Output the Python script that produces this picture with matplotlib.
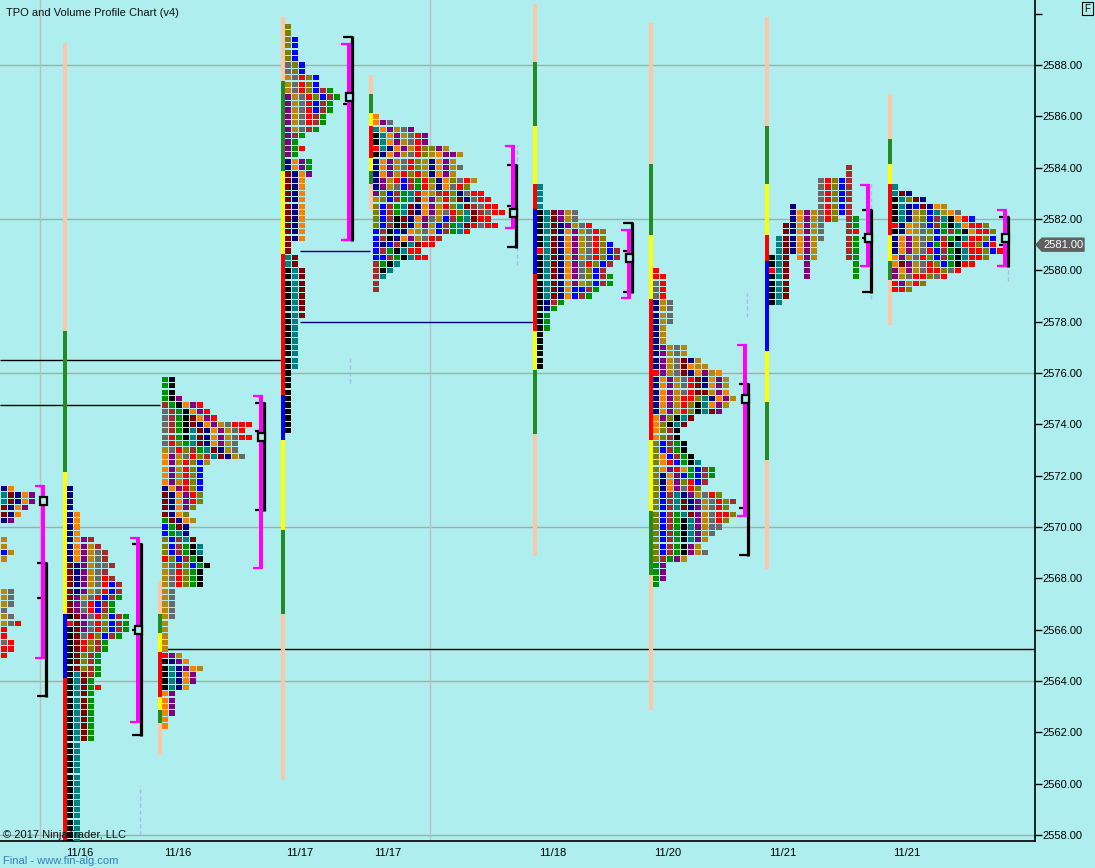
import matplotlib
matplotlib.use('Agg')
import matplotlib.pyplot as plt
from matplotlib.patches import Rectangle, Polygon

# ---------------------------------------------------------------
# look
# ---------------------------------------------------------------
BG = '#AFEEEE'
PX = 25.667            # screen pixels per 1.00 of price
CELL_H = 0.205         # TPO box height (price units), 0.25 tick minus gap
FONT = 'Liberation Sans'

TPO = {'K': '#000000', 'T': '#008080', 'M': '#800000', 'N': '#000080',
       'o': '#F58200', 'P': '#800080', 'D': '#B8860B', 'G': '#696969',
       'R': '#FF0000', 'O': '#808000', 'B': '#0000FF', 'W': '#A52A2A',
       'g': '#009000'}
BAR = {'p': '#FFC6A5', 'g': '#228B22', 'y': '#FFFF00', 'r': '#FF0000', 'b': '#0000FF'}

# ---------------------------------------------------------------
# TPO profiles: left pixel, top price, one string of letters per 0.25 row
# ('.' = empty slot)
# ---------------------------------------------------------------
prof_a_x, prof_a_top = 1, 2571.5
prof_a_rows = ["No", "TMNoP", "TMNoP", "MNoP", "MNo", "NP", "", "", "D", "D", "BD", "D",
               "", "", "", "", "DG", "DG", "DG", "G", "DG", "DGR", "R", "R", "GR", "RR", "R"]

prof_b_x, prof_b_top = 67, 2571.5
prof_b_rows = ["N", "N", "N", "N", "No", "No", "No", "No", "NoPW", "NoPDW", "NoPDGW", "NoPDGW",
               "MNPDGGW", "MNPDGW", "MNPDGRW", "MNPDGRBW", "MNPDGRBW", "MPDGRBWg", "MPGRBWg",
               "MPGRBWg", "KMPGROBWg", "RMPGROBWg", "KMPGROBWg", "KMGROBWg", "KMROWg", "KMROWg",
               "KMOWg", "KMOWg", "KMOWg", "KTMWg", "KTMg", "KTMgR",
               "KTMg", "KTMg", "KTMg", "KTMg", "KTMg", "KTMg", "KTMg", "KTMg",
               "KT", "KT", "KT", "KT", "KT", "KT", "KT", "KT",
               "KT", "KT", "KT", "KT", "KT", "KT", "KT", "KT"]

prof_c_x, prof_c_top = 162, 2575.75
prof_c_rows = ["gK", "gK", "gK", "gKP", "WgKoPR", "GWgKoPR", "GWgKMoPR", "GWgKMNoPDGRRR",
               "GWgKTMNoPDGR", "GRgKTMNoPDGRR", "GROgTMNoPDG", "DGROWgTMNDG", "oPDGROWTMNDG",
               "oPDROBD", "oPDROB", "oPDROB", "oPDROB", "NoPROB", "MNoPRO", "MNoPRO", "MNoPO",
               "MNoO", "gMNoD", "BgMN", "BgTN", "OBWTM", "OBWgKT", "OBWgKT", "ROBWgK", "DGROBgK",
               "DGROgK", "DGROgK", "DGROgK", "DG", "DG", "DG", "DG", "DG", "D", "D", "D", "D", "D",
               "RPD", "KNPo", "KTNPoD", "KTNoP", "KTNoP", "KTNo", "oP", "oP", "oP", "oP", "o", "o"]

prof_d_x, prof_d_top = 285, 2589.5
prof_d_rows = ["O", "O", "OB", "OB", "OB", "OB", "GOB", "GOB", "DGROB", "DGROB", "DGROBWg",
               "PDGROBWg", "PDGRBWg", "PDGRBWg", "PDGRWg", "PDGRWg", "PDGWg", "PWg", "Pg", "PgR",
               "Pg", "NoPg", "NoPg", "MNoP", "MNo", "MNo", "MNo", "MNo", "MNo", "MNo", "MNo",
               "MNo", "MNo", "MNo", "M", "M", "TM", "TM", "KTM", "KTM", "KTM", "KTM", "KTM",
               "KTM", "KTM", "KTM", "KT", "KT", "KT", "KT", "KT", "KT", "KT", "KT",
               "K", "K", "K", "K", "K", "K", "K", "K", "K", "K"]

prof_e_x, prof_e_top = 373, 2586.0
prof_e_rows = ["o", "oPG", "ToPDGP", "KToPDGRP", "KToPDGRP", "RTNoPDROOPD", "KNoPDGRODoPPD",
               "NoPDGRODNoPD", "NoPDGRODNoPDG", "NoPDRORDNoPD", "NPDRBWgRONoOGRD",
               "NPDGBWgRDNoGRO", "POBWgTRoDWRONGRR", "DOBWgTMoPDROMNGRR",
               "OBWgTMNoPDROTMWGRR", "OBWgTMNoPDGROTMWGRR", "OBWKMNoPGDBWgTMRR",
               "OBWKMNoPDBWgTMRGRR", "BWKBNoDGoBWgTR", "BWKNoPDGRW", "BNBWKTMRR", "BWgKTRR",
               "BBWgKTRR", "WgKT", "WKT", "WT", "W", "W"]

prof_f_x, prof_f_top = 537, 2583.25
prof_f_rows = ["T", "T", "T", "T", "KTMPDG", "KTMPDG", "KTMNPDGR", "KTMNoPDGRO", "KTMNoPDGRO",
               "KTMNoPDGROB", "RTMNoPDGROBW", "KTMNoPDGROBW", "KTMNoPGROBW", "KTMNoPGOBW",
               "KTMNoPGOBWg", "KTMNoPDOBWg", "KTMNoBBWg", "KTMNoBWg", "KNWg", "KNg",
               "Kg", "Kg", "Kg", "K", "K", "K", "K", "K", "K"]

prof_g_x, prof_g_top = 653, 2580.0
prof_g_rows = ["R", "RR", "GR", "GR", "GR", "NDG", "NDG", "NDG", "NDG", "ND", "ND", "ND",
               "NPDGD", "NPDGD", "NPDGMND", "NPDGMoDD", "RPDGMNoPDo", "NoPDGRMNoPD",
               "NoPDGRMNoPD", "NoPDGRMMDPo", "NoPDRROTNoPD", "NoPDROKToPD", "NoPDROKTMP",
               "oPOKTM", "oOKTM", "oOWK", "oOWK", "OBWgK", "OBWgK", "OoBWgK", "OoRBgKT",
               "OoPRogBWg", "ONoPBgBWg", "ONoPORBW", "ONoPGRO", "OBWTNPDGRO", "OBWTMNPDGROW",
               "OBWTMNPDGRO", "OBWgTMPDGRRO", "OBWgKTPDGRO", "OBWgKTPDGG", "OBWgKTPDG",
               "OBWgKTPD", "OBWgKPD", "OBWgKPDG", "OWgPD", "gP", "gP", "gP", "g"]

prof_h_x, prof_h_top = 769, 2584.0
prof_h_rows = ["...........W", "...........W", ".......GROBW", ".......GROBW", ".......GROBW",
               ".......GROBW", "...N...GROBW", "...NoPDGROBW", "...NoPDGRO.Wg", "..MNoPDG...Wg",
               "..MNoPDG...WR", ".TMNoPDG...Wg", ".TMNoPD....Wg", ".TMNoPD....Wg",
               "KTM.oPD....Wg", "KTM..P......g", "RTM..P......g", "KTM..P......g",
               "KTM", "KTM", "KTM", "KT"]

prof_i_x, prof_i_top = 892, 2583.25
prof_i_rows = ["T", "TMN", "KTOMN", "KTNBMNoD", "KTNDOBTDoG", "KTNDOBWTKoRB", "RNoDGBWgKToRRO",
               "KNoDGOBgWgKoRRO", "NoPDGOBWgKTRROB", "NoPDGBgRKTRROBR", "NoPDGRBWgKTRROBR",
               "oPDGROBWgKTRRO", "oMPDGROBgKRR", "PoPDGRROGR", "PDGRROGR", "RPDRO", "RRO"]

# ---------------------------------------------------------------
# session range bars: left pixel, segments (colour, top tick, bottom tick)
# ---------------------------------------------------------------
bar1 = (63, [('p', 2588.75, 2577.75), ('g', 2577.5, 2572.25), ('y', 2572.0, 2566.75),
             ('b', 2566.5, 2564.25), ('r', 2564.0, 2557.75)])
bar2 = (158, [('p', 2567.75, 2566.75), ('g', 2566.5, 2566.0), ('y', 2565.75, 2565.25),
              ('r', 2565.0, 2563.5), ('y', 2563.25, 2563.0), ('g', 2562.75, 2562.5),
              ('p', 2562.25, 2561.25)])
bar3 = (281, [('p', 2589.75, 2587.5), ('g', 2587.25, 2584.0), ('y', 2583.75, 2580.75),
              ('r', 2580.5, 2575.25), ('b', 2575.0, 2573.5), ('y', 2573.25, 2570.0),
              ('g', 2569.75, 2566.75), ('p', 2566.5, 2560.25)])
bar4 = (369, [('p', 2587.5, 2587.0), ('g', 2586.75, 2586.25), ('y', 2586.0, 2585.75),
              ('r', 2585.5, 2584.5), ('y', 2584.25, 2584.0), ('g', 2583.75, 2583.5),
              ('p', 2583.25, 2582.5)])
bar5 = (533, [('p', 2590.25, 2588.25), ('g', 2588.0, 2585.75), ('y', 2585.5, 2583.5),
              ('r', 2583.25, 2582.5), ('b', 2582.25, 2580.0), ('r', 2579.75, 2577.75),
              ('y', 2577.5, 2576.25), ('g', 2576.0, 2573.75), ('p', 2573.5, 2569.0)])
bar6 = (649, [('p', 2589.5, 2584.25), ('g', 2584.0, 2581.5), ('y', 2581.25, 2579.0),
              ('r', 2578.75, 2573.5), ('y', 2573.25, 2570.75), ('g', 2570.5, 2568.25),
              ('p', 2568.0, 2563.0)])
bar7 = (765, [('p', 2589.75, 2585.75), ('g', 2585.5, 2583.5), ('y', 2583.25, 2581.5),
              ('r', 2581.25, 2580.5), ('b', 2580.25, 2577.0), ('y', 2576.75, 2575.0),
              ('g', 2574.75, 2572.75), ('p', 2572.5, 2568.5)])
bar8 = (888, [('p', 2586.75, 2585.25), ('g', 2585.0, 2584.25), ('y', 2584.0, 2583.5),
              ('r', 2583.25, 2581.5), ('y', 2581.25, 2580.5), ('g', 2580.25, 2579.75),
              ('p', 2579.5, 2578.0)])

# value area (magenta) : x, high, low, POC   /  volume bracket (black): high, low, mid
va_x    = [43, 138, 261, 349, 513, 629, 745, 868, 1005]
va_hi   = [2571.5, 2569.5, 2575.0, 2588.75, 2584.75, 2581.5, 2577.0, 2583.25, 2582.25]
va_lo   = [2565.0, 2562.5, 2568.5, 2581.25, 2581.75, 2579.0, 2570.5, 2580.25, 2580.25]
va_poc  = [2571.0, 2566.0, 2573.5, 2586.75, 2582.25, 2580.5, 2575.0, 2581.25, 2581.25]
vol_hi  = [2568.5, 2569.25, 2574.75, 2589.0, 2584.0, 2581.75, 2575.5, 2582.25, 2582.0]
vol_lo  = [2563.5, 2562.0, 2570.75, 2581.25, 2581.0, 2579.25, 2569.0, 2579.25, 2580.25]
vol_mid = [2567.25, 2566.0, 2573.75, 2586.5, 2582.5, 2580.75, 2570.75, 2581.25, 2581.0]

# faint dashed marks next to some brackets: x, price from, price to
dash_marks = [(140, 2558.0, 2559.9), (350, 2575.6, 2576.6), (747, 2578.2, 2579.1),
              (517, 2580.2, 2584.9), (871, 2578.9, 2583.4), (1008, 2579.6, 2582.3)]

# naked POC lines: price, x from, x to, colour
naked_lines = [(2576.5, 0, 282, '#000000'), (2574.75, 0, 160, '#000000'),
               (2565.25, 160, 1035, '#000000'), (2580.75, 300, 370, '#000080'),
               (2578.0, 300, 535, '#000080')]

grid_prices = [2558, 2564, 2570, 2576, 2582, 2588]
grid_x = [40, 430]
date_x = [80, 178, 300, 388, 553, 668, 783, 907]
date_labels = ['11/16', '11/16', '11/17', '11/17', '11/18', '11/20', '11/21', '11/21']
last_price = 2581.0

# ---------------------------------------------------------------
# figure
# ---------------------------------------------------------------
fig = plt.figure(figsize=(10.95, 8.68), dpi=100)
fig.patch.set_facecolor(BG)
ax = fig.add_axes([0, 27 / 868, 1035 / 1095, 841 / 868])
ax.set_facecolor(BG)
ax.set_xlim(0, 1035)
ax.set_ylim(2588 - 776 / PX, 2588 + 65 / PX)

for p in grid_prices:
    ax.axhline(p, color='#A9A9A9', lw=1, zorder=1)
for x in grid_x:
    ax.axvline(x, color='#BDBDBD', lw=1, zorder=1)

for p, x0, x1, c in naked_lines:
    ax.hlines(p, x0, x1, color=c, lw=1, zorder=2)

for x, p0, p1 in dash_marks:
    ax.vlines(x, p0, p1, color='#A9B9F2', lw=1, linestyles=(0, (3, 2)), zorder=2)

# session bars
for x, segs in [bar1, bar2, bar3, bar4, bar5, bar6, bar7, bar8]:
    for c, hi, lo in segs:
        ax.bar(x, hi - lo + 0.25, width=4, bottom=lo - 0.125, align='edge',
               color=BAR[c], linewidth=0, zorder=2)

# TPO boxes
profiles = [(prof_a_x, prof_a_top, prof_a_rows), (prof_b_x, prof_b_top, prof_b_rows),
            (prof_c_x, prof_c_top, prof_c_rows), (prof_d_x, prof_d_top, prof_d_rows),
            (prof_e_x, prof_e_top, prof_e_rows), (prof_f_x, prof_f_top, prof_f_rows),
            (prof_g_x, prof_g_top, prof_g_rows), (prof_h_x, prof_h_top, prof_h_rows),
            (prof_i_x, prof_i_top, prof_i_rows)]
for x0, top, rows in profiles:
    xs, bots, cols = [], [], []
    for i, row in enumerate(rows):
        price = top - 0.25 * i
        for j, ch in enumerate(row):
            if ch == '.':
                continue
            xs.append(x0 + 7 * j)
            bots.append(price - CELL_H / 2)
            cols.append(TPO[ch])
    ax.bar(xs, CELL_H, width=6, bottom=bots, align='edge', color=cols,
           linewidth=0, zorder=3)

# brackets
px = 1 / PX
for i in range(len(va_x)):
    mx = va_x[i]
    bx = mx + 3
    # black volume bracket
    ax.plot([bx, bx], [vol_lo[i] - 0.125, vol_hi[i] + 0.125], color='black', lw=2.3,
            solid_capstyle='butt', zorder=4)
    for yy in (vol_hi[i] + 0.125 - px, vol_lo[i] - 0.125 + px):
        ax.plot([bx - 9, bx + 1], [yy, yy], color='black', lw=1.6, solid_capstyle='butt', zorder=4)
    ax.plot([bx - 9, bx - 5], [vol_mid[i], vol_mid[i]], color='black', lw=1.6,
            solid_capstyle='butt', zorder=4)
    # magenta value area
    ax.plot([mx, mx], [va_lo[i] - 0.125, va_hi[i] + 0.125], color='#FF00FF', lw=2.9,
            solid_capstyle='butt', zorder=5)
    for yy in (va_hi[i] + 0.125 - px, va_lo[i] - 0.125 + px):
        ax.plot([mx - 8, mx + 1.5], [yy, yy], color='#FF00FF', lw=1.6, solid_capstyle='butt', zorder=5)
    ax.add_patch(Rectangle((mx - 3, va_poc[i] - 4 * px), 6.5, 8 * px, facecolor=BG,
                           edgecolor='black', lw=1.6, zorder=6))

# axes, ticks
for s in ['left', 'top']:
    ax.spines[s].set_visible(False)
ax.spines['right'].set_linewidth(1.2)
ax.spines['bottom'].set_linewidth(1.2)
ax.yaxis.tick_right()
yt = list(range(2558, 2591, 2))
ax.set_yticks(yt)
ax.set_yticklabels(['' if v == 2590 else f'{v:.2f}' for v in yt], fontsize=8, family=FONT)
ax.tick_params(axis='y', direction='out', length=5, width=1, pad=0.5)
ax.set_xticks(date_x)
ax.set_xticklabels(date_labels, fontsize=8, family=FONT)
ax.tick_params(axis='x', length=0, pad=5)

# last price tag
h = 6.5 * px
ax.add_patch(Polygon([(1036, last_price), (1042, last_price + h), (1084, last_price + h),
                      (1084, last_price - h), (1042, last_price - h)], closed=True,
                     facecolor='#5F5F5F', edgecolor='#5F5F5F', clip_on=False, zorder=7))
ax.text(1043, last_price, f'{last_price:.2f}', color='white', fontsize=8, family=FONT,
        va='center', ha='left', clip_on=False, zorder=8)

# texts
W, H = 1095, 868
fig.text(6 / W, 1 - 13 / H, 'TPO and Volume Profile Chart (v4)', fontsize=8, family=FONT,
         va='center', ha='left', color='#111111')
fig.text(3 / W, 1 - 835 / H, '\u00a9 2017 NinjaTrader, LLC', fontsize=8, family=FONT,
         va='center', ha='left', color='#111111')
fig.text(3 / W, 1 - 861 / H, 'Final - www.fin-alg.com', fontsize=8, family=FONT,
         va='center', ha='left', color='#2E7FC0')
fig.patches.append(Rectangle((1082 / W, 1 - 15 / H), 11 / W, 13 / H, transform=fig.transFigure,
                             facecolor=BG, edgecolor='black', lw=0.8))
fig.text(1087.5 / W, 1 - 8.5 / H, 'F', fontsize=7, family=FONT, va='center', ha='center')

fig.savefig('out.png', dpi=100, facecolor=BG)
